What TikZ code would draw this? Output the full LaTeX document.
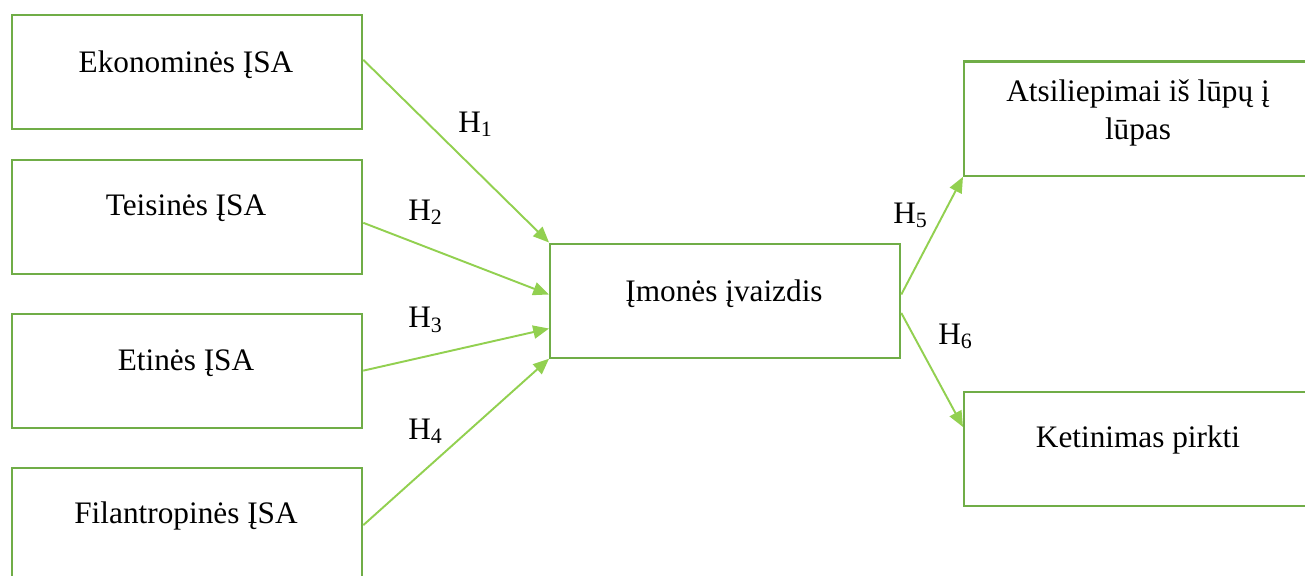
\documentclass[tikz,border=0pt]{standalone}
\usepackage{fontspec}
\setmainfont{Liberation Serif}
\usetikzlibrary{arrows.meta}

\definecolor{boxgreen}{HTML}{70AD47}
\definecolor{arrowgreen}{HTML}{92D050}

\begin{document}
\begin{tikzpicture}[
    isabox/.style={draw=boxgreen, line width=1.3pt, rectangle, anchor=north west,
                   minimum width=7cm, minimum height=2.28cm, inner sep=0pt},
    boxtext/.style={anchor=base, inner sep=0pt, align=center},
    hyp/.style={anchor=base west, inner sep=0pt},
    link/.style={draw=arrowgreen, line width=1.1pt,
                 -{Triangle[length=9pt, width=7.5pt]}},
    font=\fontsize{17.8}{21.4}\selectfont]
  \useasboundingbox (0.0, 0.0) rectangle (26.1, -11.52);

  % kairėje -- keturios ĮSA dimensijos
  \node (eko)  at (0.22, -0.28) [isabox] {};
  \node (teis) at (0.22, -3.17) [isabox] {};
  \node (etin) at (0.22, -6.25) [isabox] {};
  \node (fil)  at (0.22, -9.34) [isabox] {};

  \node (teko)  at (3.72, -1.45)  [boxtext] {Ekonominės ĮSA};
  \node (tteis) at (3.72, -4.31)  [boxtext] {Teisinės ĮSA};
  \node (tetin) at (3.72, -7.41)  [boxtext] {Etinės ĮSA};
  \node (tfil)  at (3.72, -10.47) [boxtext] {Filantropinės ĮSA};

  % viduryje ir dešinėje
  \node (imon) at (10.98, -4.85) [isabox] {};
  \node (ats)  at (19.26, -1.21) [isabox] {};
  \node (ket)  at (19.26, -7.81) [isabox] {};

  \node (timon) at (14.48, -6.03) [boxtext] {Įmonės įvaizdis};
  % base = antrosios eilutės bazinė linija
  \node (tats)  at (22.76, -2.79) [boxtext] {Atsiliepimai iš lūpų į\\lūpas};
  \node (tket)  at (22.76, -8.95) [boxtext] {Ketinimas pirkti};

  % hipotezės
  \node (h1) at (9.16, -2.64)  [hyp] {H\textsubscript{1}};
  \node (h2) at (8.16, -4.40)  [hyp] {H\textsubscript{2}};
  \node (h3) at (8.16, -6.55)  [hyp] {H\textsubscript{3}};
  \node (h4) at (8.16, -8.78)  [hyp] {H\textsubscript{4}};
  \node (h5) at (17.86, -4.46) [hyp] {H\textsubscript{5}};
  \node (h6) at (18.76, -6.88) [hyp] {H\textsubscript{6}};

  \draw [link] (eko.4)    -- (imon.north west);
  \draw [link] (teis.358) -- (imon.178);
  \draw [link] (etin.east) -- (imon.189);
  \draw [link] (fil.east) -- (imon.south west);

  \draw [link] (imon.2)   -- (ats.south west);
  \draw [link] (imon.356) -- (ket.173);
\end{tikzpicture}
\end{document}
